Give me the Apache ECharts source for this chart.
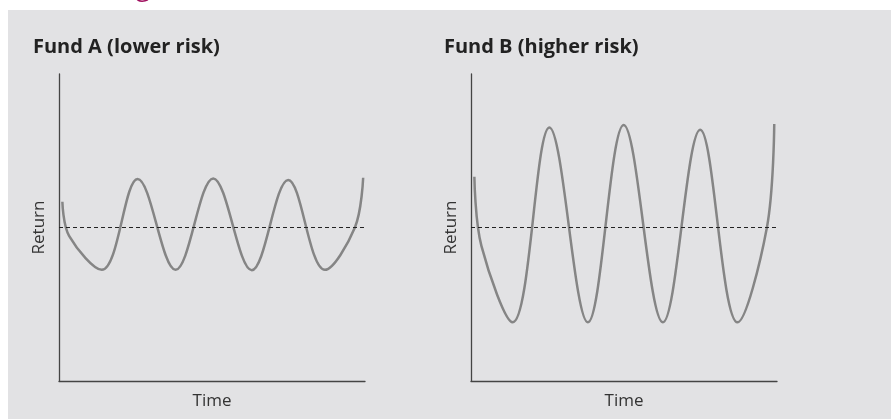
<!DOCTYPE html>
<html>
<head>
<meta charset="utf-8">
<script src="https://cdn.jsdelivr.net/npm/echarts@6/dist/echarts.min.js"></script>
<style>
html, body { margin: 0; padding: 0; background: #fff; }
.panel { position: absolute; left: 8px; top: 10px; right: 0; bottom: 0; background: #e2e2e4; }
#chart { position: absolute; left: 0; top: 0; width: 891px; height: 419px; }
</style>
</head>
<body>
<div class="panel"></div>
<div id="chart"></div>
<script>
// values, time and return both on a 0-100 scale
// (start, a point on the first drop, then peaks/troughs, last crossing, end)
const timeA = [1.1, 3.3, 14.0, 25.7, 38.1, 50.4, 63.0, 74.9, 86.9, 96.7, 99.4];
const returnA = [58.4, 47.3, 36.2, 65.8, 36.2, 66.0, 36.1, 65.5, 36.2, 50, 66.2];

const timeB = [1.1, 3.4, 13.6, 25.6, 38.2, 49.9, 62.7, 74.9, 87.1, 96.7, 99.1];
const returnB = [66.5, 44.0, 19.1, 82.6, 19.1, 83.4, 19.1, 81.8, 19.1, 50, 83.7];

const averageReturn = 50;
const titles = ['Fund A (lower risk)', 'Fund B (higher risk)'];

function pairs(xs, ys) {
  return xs.map((x, i) => [x, ys[i]]);
}

var font = 'Open Sans';
var myChart = echarts.init(document.getElementById('chart'));

function xAx(idx) {
  return {
    type: 'value', gridIndex: idx, min: 0, max: 100,
    name: 'Time', nameLocation: 'middle', nameGap: 12,
    nameTextStyle: { fontFamily: font, fontSize: 17, color: '#333' },
    axisLine: { lineStyle: { color: '#444', width: 1.3 } },
    axisTick: { show: false }, axisLabel: { show: false }, splitLine: { show: false }
  };
}
function yAx(idx) {
  return {
    type: 'value', gridIndex: idx, min: 0, max: 100,
    name: 'Return', nameLocation: 'middle', nameGap: 11,
    nameTextStyle: { fontFamily: font, fontSize: 17, color: '#333' },
    axisLine: { show: true, lineStyle: { color: '#444', width: 1.3 } },
    axisTick: { show: false }, axisLabel: { show: false }, splitLine: { show: false }
  };
}
function fund(idx, data) {
  return {
    type: 'line', xAxisIndex: idx, yAxisIndex: idx,
    data: data, smooth: 0.36, showSymbol: false, silent: true,
    lineStyle: { color: '#858585', width: 2.5 },
    markLine: {
      silent: true, symbol: 'none', label: { show: false },
      lineStyle: { color: '#222', type: [4, 3], width: 1 },
      data: [{ yAxis: averageReturn }]
    }
  };
}

var titleStyle = { fontFamily: font, fontSize: 20, fontWeight: 'bold', color: '#222' };

myChart.setOption({
  animation: false,
  title: [
    { text: titles[0], left: 28, top: 32, textStyle: titleStyle },
    { text: titles[1], left: 439, top: 32, textStyle: titleStyle }
  ],
  graphic: [
    // heading above the panel, cut off by the top edge
    { type: 'text', x: 33, y: 2, silent: true,
      style: { text: 'Assessing the risks,', fontFamily: font, fontSize: 26, fill: '#a0105f', verticalAlign: 'bottom' } }
  ],
  grid: [
    { left: 59, top: 74, width: 306, height: 307 },
    { left: 471, top: 74, width: 306, height: 307 }
  ],
  xAxis: [xAx(0), xAx(1)],
  yAxis: [yAx(0), yAx(1)],
  series: [fund(0, pairs(timeA, returnA)), fund(1, pairs(timeB, returnB))]
});
</script>
</body>
</html>
